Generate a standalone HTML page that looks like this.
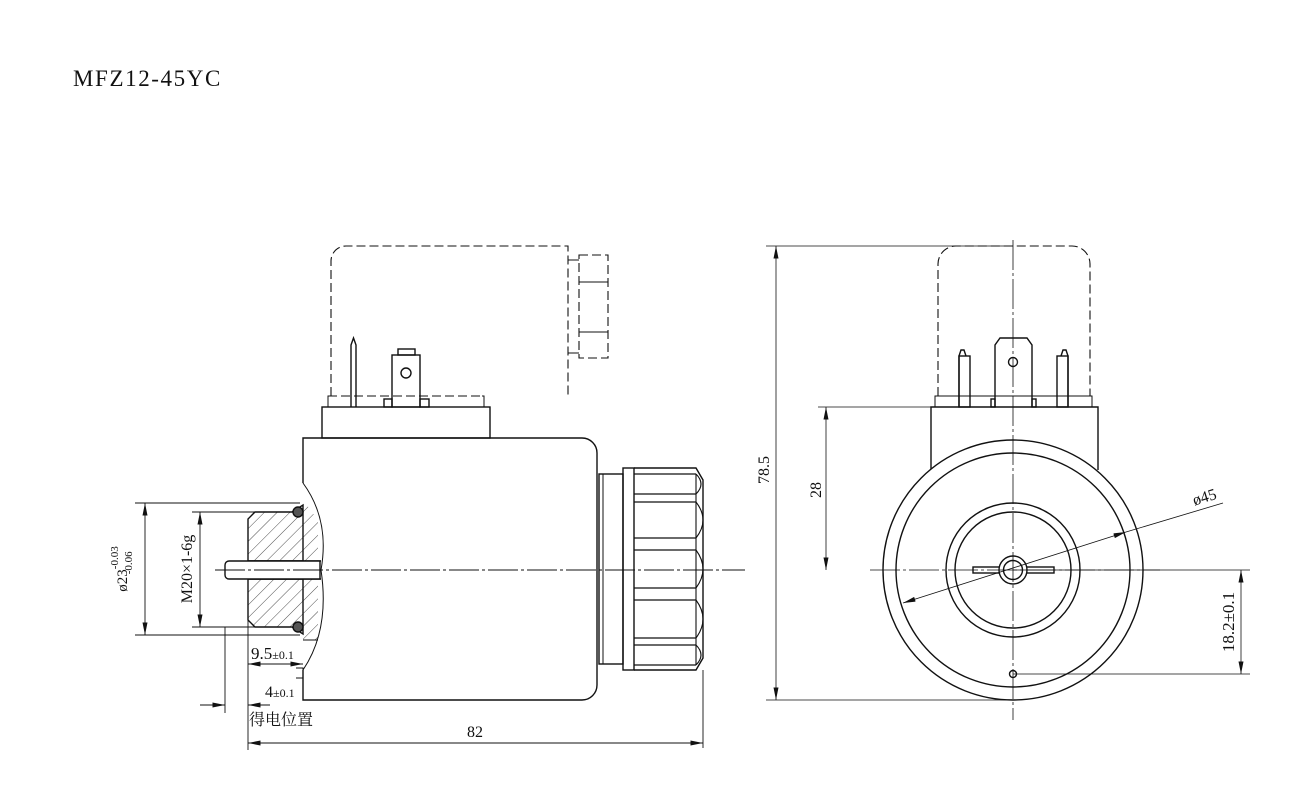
<!DOCTYPE html>
<html><head><meta charset="utf-8"><style>
html,body{margin:0;padding:0;background:#fff}
svg{display:block}
text{font-family:"Liberation Serif","Noto Serif CJK SC",serif;fill:#111}
</style></head><body>
<svg width="1307" height="807" viewBox="0 0 1307 807" xmlns="http://www.w3.org/2000/svg">
<defs>
<pattern id="h" width="9" height="9" patternUnits="userSpaceOnUse" patternTransform="rotate(45)">
<line x1="0" y1="0" x2="0" y2="9" stroke="#222" stroke-width="0.8"/></pattern>
<marker id="a" viewBox="0 0 10 4" refX="10" refY="2" markerWidth="14" markerHeight="5" orient="auto-start-reverse" markerUnits="userSpaceOnUse"><path d="M0,0L10,2L0,4z" fill="#111"/></marker>
</defs>
<text x="73" y="86" font-size="23" letter-spacing="1.6">MFZ12-45YC</text>

<g fill="none" stroke="#111" stroke-width="1.4">
<!-- LEFT VIEW -->
<path d="M331,396V261a15,15 0 0 1 15,-15H568V396" stroke-dasharray="9,4" stroke-width="1.1"/>
<rect x="579" y="255" width="29" height="103" stroke-dasharray="9,4" stroke-width="1.1"/>
<path d="M579,282H608M579,332H608M568,260H579M568,353H579" stroke-width="1.1"/>
<path d="M331,396H328V407M484,407V396H482" stroke-width="1"/>
<line x1="328" y1="396" x2="484" y2="396" stroke-dasharray="9,4" stroke-width="1.1"/>
<rect x="322" y="407" width="168" height="31"/>
<path d="M351,407V345l2.5,-7l2.5,7V407"/>
<rect x="392" y="355" width="28" height="52"/>
<rect x="398" y="349" width="17" height="6"/>
<circle cx="406" cy="373" r="5"/>
<rect x="384" y="399" width="8" height="8"/><rect x="420" y="399" width="9" height="8"/>
<path d="M303,483V438H582a15,15 0 0 1 15,15V685a15,15 0 0 1 -15,15H303V670"/>
<path d="M303,483Q330,520 321,570Q330,630 303,670" stroke-width="1"/>
<path d="M255,512H292L303,505V561H248V519z" fill="url(#h)"/>
<path d="M248,579H303V634L292,627H255L248,620z" fill="url(#h)"/>
<path d="M303,500L318,520V561H303z M303,579H318V640L303,640z" fill="url(#h)" stroke="none"/>
<line x1="248" y1="561" x2="321" y2="561"/><line x1="248" y1="579" x2="321" y2="579"/>
<path d="M225,565a4,4 0 0 1 4,-4H320V579H229a4,4 0 0 1 -4,-4z" fill="#fff"/>
<circle cx="298" cy="512" r="5" fill="#555"/><circle cx="298" cy="627" r="5" fill="#555"/>
<path d="M303,640H318M296,668H303V678H296" stroke-width="1"/>
<!-- nut -->
<rect x="599" y="474" width="24" height="190"/>
<line x1="603" y1="474" x2="603" y2="664" stroke-width="1"/>
<rect x="623" y="468" width="11" height="202"/>
<path d="M634,468H696L703,480V658L696,670H634"/>
<path d="M634,474H696M634,494H696M634,502H696M634,538H696M634,550H696M634,588H696M634,600H696M634,638H696M634,645H696M634,665H696" stroke-width="1.2"/>
<path d="M696,474Q706,484 696,494M696,502Q710,520 696,538M696,550Q710,569 696,588M696,600Q710,619 696,638M696,645Q706,655 696,665" stroke-width="1.1"/>
<line x1="696" y1="474" x2="696" y2="665" stroke-width="1.1"/>
<line x1="703" y1="670" x2="703" y2="748" stroke-width="0.9"/>
<line x1="215" y1="570" x2="745" y2="570" stroke-width="0.9" stroke-dasharray="30,3,3,3"/>
</g>

<g fill="none" stroke="#111" stroke-width="0.9">
<path d="M135,503H300M135,635H300M192,512H255M192,627H255"/>
<line x1="145" y1="503" x2="145" y2="635" marker-start="url(#a)" marker-end="url(#a)"/>
<line x1="200" y1="512" x2="200" y2="627" marker-start="url(#a)" marker-end="url(#a)"/>
<path d="M225,627V713M248,620V750"/>
<line x1="248" y1="664" x2="303" y2="664" marker-start="url(#a)" marker-end="url(#a)"/>
<line x1="200" y1="705" x2="225" y2="705" marker-end="url(#a)"/>
<line x1="270" y1="705" x2="248" y2="705" marker-end="url(#a)"/>
<line x1="248" y1="743" x2="703" y2="743" marker-start="url(#a)" marker-end="url(#a)"/>
</g>
<text transform="translate(127,569) rotate(-90)" font-size="15" text-anchor="middle">ø23<tspan font-size="11" dy="-9">-0.03</tspan><tspan font-size="11" dx="-28" dy="14">-0.06</tspan></text>
<text transform="translate(192,569) rotate(-90)" font-size="16" text-anchor="middle">M20×1-6g</text>
<text x="251" y="659" font-size="17">9.5<tspan font-size="12">±0.1</tspan></text>
<text x="265" y="697" font-size="16">4<tspan font-size="12">±0.1</tspan></text>
<text x="249" y="725" font-size="16">得电位置</text>
<text x="467" y="737" font-size="16">82</text>

<!-- RIGHT VIEW -->
<g fill="none" stroke="#111" stroke-width="1.4">
<path d="M938,396V264a18,18 0 0 1 18,-18H1072a18,18 0 0 1 18,18V396" stroke-dasharray="9,4" stroke-width="1.1"/>
<path d="M935,407V396H1092V407" stroke-width="1"/>
<line x1="935" y1="396" x2="1092" y2="396" stroke-dasharray="9,4" stroke-width="1.1"/>
<path d="M931,470V407H1098V470"/>
<path d="M995,407V345l5,-7H1027l5,7V407"/>
<circle cx="1013" cy="362" r="4.5"/>
<rect x="991" y="399" width="4" height="8"/><rect x="1032" y="399" width="4" height="8"/>
<rect x="959" y="356" width="11" height="51"/><path d="M959,407V356l2,-6h3l2,6" />
<rect x="1057" y="356" width="11" height="51"/><path d="M1068,407V356l-2,-6h-3l-2,6"/>
<circle cx="1013" cy="570" r="130" fill="#fff"/>
<circle cx="1013" cy="570" r="117"/>
<circle cx="1013" cy="570" r="67"/>
<circle cx="1013" cy="570" r="58"/>
<rect x="973" y="567" width="81" height="6" fill="#fff"/>
<circle cx="1013" cy="570" r="14" fill="#fff"/>
<circle cx="1013" cy="570" r="9.5"/>
<circle cx="1013" cy="674" r="3.5"/>
</g>
<g fill="none" stroke="#111" stroke-width="0.8">
<line x1="1013" y1="240" x2="1013" y2="720" stroke-dasharray="30,3,3,3"/>
<line x1="870" y1="570" x2="1160" y2="570" stroke-dasharray="30,3,3,3"/>
<path d="M766,246H1013M766,700H1013M818,407H931M1013,570H1250M1013,674H1250"/>
<line x1="776" y1="246" x2="776" y2="700" marker-start="url(#a)" marker-end="url(#a)"/>
<line x1="826" y1="407" x2="826" y2="570" marker-start="url(#a)" marker-end="url(#a)"/>
<line x1="1241" y1="570" x2="1241" y2="674" marker-start="url(#a)" marker-end="url(#a)"/>
<line x1="903" y1="603" x2="1126" y2="532" marker-start="url(#a)" marker-end="url(#a)"/>
<line x1="1126" y1="532" x2="1223" y2="503"/>
</g>
<text transform="translate(769,470) rotate(-90)" font-size="16" text-anchor="middle">78.5</text>
<text transform="translate(821,490) rotate(-90)" font-size="16" text-anchor="middle">28</text>
<text transform="translate(1234,622) rotate(-90)" font-size="17" text-anchor="middle">18.2±0.1</text>
<text transform="translate(1206,502) rotate(-17)" font-size="16" text-anchor="middle">ø45</text>
</svg>
</body></html>
